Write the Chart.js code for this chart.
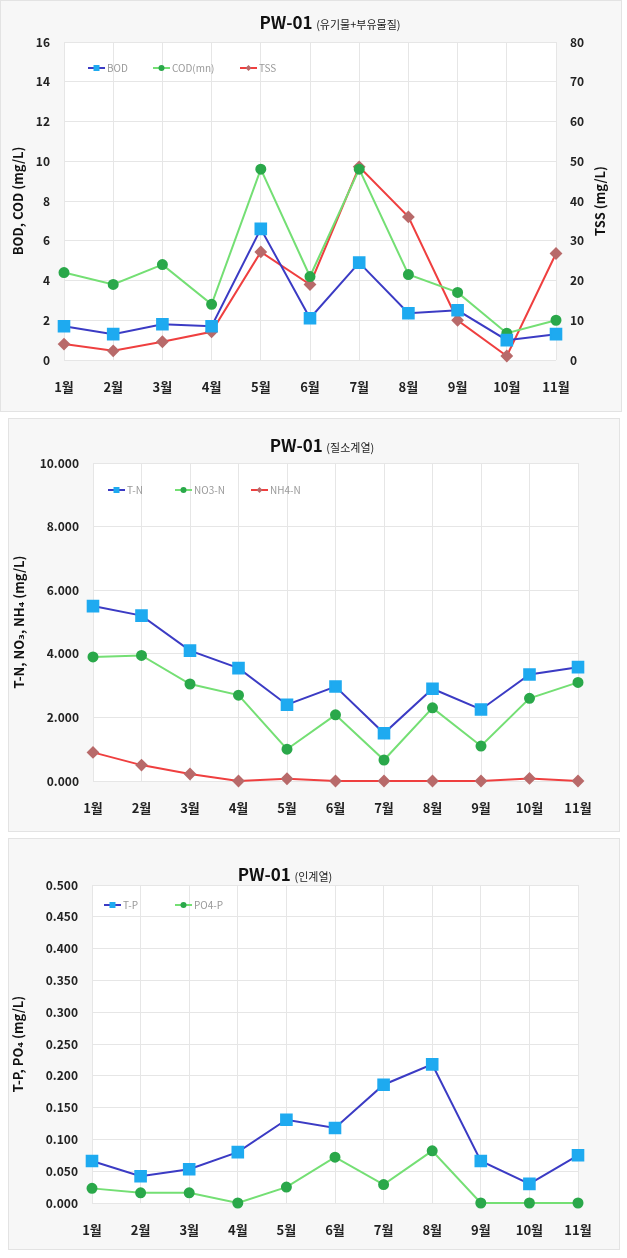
<!DOCTYPE html>
<html>
<head>
<meta charset="utf-8">
<script src="https://cdn.jsdelivr.net/npm/chart.js@4.4.1/dist/chart.umd.min.js"></script>
<style>
    body { margin: 0; width: 627px; height: 1258px; background: #fff; position: relative; overflow: hidden; font-family: "Noto Sans CJK KR", sans-serif; }
    .panel { position: absolute; background: #f7f7f7; border: 1px solid #e3e3e3; box-sizing: border-box; }
    .panel canvas { position: absolute; left: -1px; top: -1px; }
    .title { position: absolute; white-space: nowrap; color: #111; transform: translate(-50%, -50%); line-height: 1; }
    .title b { font-size: 17px; }
    .title span { font-size: 11px; font-weight: normal; color: #222; }
</style>
</head>
<body>
<div class="panel" style="left:0;top:0;width:622px;height:412px"><canvas id="c1" width="622" height="412"></canvas></div>
<div class="panel" style="left:8px;top:418px;width:612px;height:414px"><canvas id="c2" width="612" height="414"></canvas></div>
<div class="panel" style="left:8px;top:838px;width:612px;height:412px"><canvas id="c3" width="612" height="412"></canvas></div>
<div class="title" style="left:330px;top:21px"><b>PW-01</b> <span>(유기물+부유물질)</span></div>
<div class="title" style="left:322px;top:444px"><b>PW-01</b> <span>(질소계열)</span></div>
<div class="title" style="left:285px;top:873px"><b>PW-01</b> <span>(인계열)</span></div>
<script>
const months = ["1월", "2월", "3월", "4월", "5월", "6월", "7월", "8월", "9월", "10월", "11월"];

// 유기물 + 부유물질
const bod = [1.7, 1.3, 1.8, 1.7, 6.6, 2.1, 4.9, 2.35, 2.5, 1.0, 1.3];
const cod = [4.4, 3.8, 4.8, 2.8, 9.6, 4.2, 9.6, 4.3, 3.4, 1.35, 2.0];
const tss = [4.0, 2.3, 4.6, 7.1, 27.2, 19.0, 48.6, 36.0, 10.0, 1.0, 26.8];

// 질소계열
const tn = [5.5, 5.2, 4.1, 3.55, 2.4, 2.97, 1.5, 2.9, 2.25, 3.35, 3.58];
const no3 = [3.9, 3.95, 3.05, 2.7, 1.0, 2.08, 0.66, 2.3, 1.1, 2.6, 3.1];
const nh4 = [0.9, 0.5, 0.22, 0.0, 0.07, 0.0, 0.0, 0.0, 0.0, 0.08, 0.0];

// 인계열
const tp = [0.066, 0.042, 0.053, 0.080, 0.131, 0.118, 0.186, 0.218, 0.066, 0.030, 0.075];
const po4 = [0.023, 0.016, 0.016, 0.0, 0.025, 0.072, 0.029, 0.082, 0.0, 0.0, 0.0];

const FONT = '"Noto Sans CJK KR", "DejaVu Sans", sans-serif';
const GRID = "#e6e6e6";

const plotBackground = {
    id: "plotBackground",
    beforeDraw(chart) {
        const { ctx, chartArea: a } = chart;
        ctx.save();
        ctx.fillStyle = "#fff";
        ctx.fillRect(a.left, a.top, a.width, a.height);
        ctx.restore();
    },
};

function drawMarker(ctx, style, x, y, r) {
    ctx.beginPath();
    if (style === "rect") {
        ctx.rect(x - r, y - r, r * 2, r * 2);
    } else if (style === "rectRot") {
        ctx.moveTo(x, y - r); ctx.lineTo(x + r, y); ctx.lineTo(x, y + r); ctx.lineTo(x - r, y); ctx.closePath();
    } else {
        ctx.arc(x, y, r, 0, Math.PI * 2);
    }
    ctx.fill();
}

// legend drawn inside the plot, top-left, like the original sheet
const insideLegend = {
    id: "insideLegend",
    afterDraw(chart, args, opts) {
        const { ctx, chartArea: a } = chart;
        ctx.save();
        ctx.font = "10px " + FONT;
        ctx.textBaseline = "middle";
        chart.data.datasets.forEach((ds, i) => {
            const x = a.left + opts.xs[i];
            const y = a.top + opts.y;
            ctx.strokeStyle = ds.borderColor;
            ctx.lineWidth = 2;
            ctx.beginPath();
            ctx.moveTo(x, y);
            ctx.lineTo(x + 17, y);
            ctx.stroke();
            ctx.fillStyle = ds.pointBackgroundColor;
            drawMarker(ctx, ds.pointStyle, x + 8.5, y, 3);
            ctx.fillStyle = "#999";
            ctx.fillText(ds.label, x + 19, y);
        });
        ctx.restore();
    },
};

// right axis title reads bottom-to-top in the original, so draw it by hand
const rightTitle = {
    id: "rightTitle",
    afterDraw(chart, args, opts) {
        if (!opts.text) return;
        const { ctx, chartArea: a } = chart;
        ctx.save();
        ctx.translate(a.right + opts.dx, (a.top + a.bottom) / 2);
        ctx.rotate(-Math.PI / 2);
        ctx.font = "bold 13px " + FONT;
        ctx.fillStyle = "#111";
        ctx.textAlign = "center";
        ctx.textBaseline = "middle";
        ctx.fillText(opts.text, 0, 0);
        ctx.restore();
    },
};

function blueSeries(label, data) {
    return { label, data, borderColor: "#3b3bc4", backgroundColor: "#1eaaf0", pointBackgroundColor: "#1eaaf0",
        pointBorderColor: "#1eaaf0", pointStyle: "rect", pointRadius: 7.5, borderWidth: 2, tension: 0, clip: false };
}
function greenSeries(label, data) {
    return { label, data, borderColor: "#74df74", backgroundColor: "#2aa84a", pointBackgroundColor: "#2aa84a",
        pointBorderColor: "#2aa84a", pointStyle: "circle", pointRadius: 4.5, borderWidth: 2, tension: 0, clip: false };
}
function redSeries(label, data, yAxisID) {
    return { label, data, yAxisID, borderColor: "#ef3f3f", backgroundColor: "#b86a6a", pointBackgroundColor: "#b86a6a",
        pointBorderColor: "#b86a6a", pointStyle: "rectRot", pointRadius: 5, borderWidth: 2, tension: 0, clip: false };
}

function xAxis(height) {
    return {
        type: "category",
        offset: false,
        grid: { color: GRID, drawTicks: false },
        border: { display: false },
        ticks: { color: "#222", font: { family: FONT, size: 13, weight: "bold" }, padding: 19, maxRotation: 0, autoSkip: false },
        afterFit(scale) { scale.height = height; },
    };
}

function yAxis(min, max, step, title, width, titlePad, decimals, position) {
    return {
        position: position || "left",
        min, max,
        grid: { color: GRID, drawTicks: false },
        border: { display: false },
        ticks: {
            stepSize: step,
            color: "#222",
            font: { family: FONT, size: 12, weight: "bold" },
            padding: 14,
            callback: (v) => Number(v).toFixed(decimals),
        },
        title: { display: !!title, text: title, color: "#111", font: { family: FONT, size: 13, weight: "bold" }, padding: { top: titlePad, bottom: 0 } },
        afterFit(scale) { scale.width = width; },
    };
}

function makeChart(id, datasets, scales, padding, legend, rightText) {
    return new Chart(document.getElementById(id), {
        type: "line",
        data: { labels: months, datasets },
        options: {
            responsive: false,
            animation: false,
            layout: { padding },
            plugins: {
                legend: { display: false },
                tooltip: { enabled: false },
                insideLegend: legend,
                rightTitle: { text: rightText || "", dx: 44 },
            },
            scales,
        },
        plugins: [plotBackground, insideLegend, rightTitle],
    });
}

const right1 = yAxis(0, 80, 10, "", 66, 0, 0, "right");
right1.grid = { drawOnChartArea: false, drawTicks: false };
makeChart("c1",
    [blueSeries("BOD", bod), greenSeries("COD(mn)", cod), redSeries("TSS", tss, "y2")],
    { x: xAxis(52), y: yAxis(0, 16, 2, "BOD, COD (mg/L)", 64, 10, 0), y2: right1 },
    { top: 42, left: 0, right: 0, bottom: 0 },
    { xs: [24, 89, 176], y: 26 },
    "TSS (mg/L)");

makeChart("c2",
    [blueSeries("T-N", tn), greenSeries("NO3-N", no3), redSeries("NH4-N", nh4, "y")],
    { x: xAxis(51), y: yAxis(0, 10, 2, "T-N, NO₃, NH₄ (mg/L)", 85, 3, 3) },
    { top: 45, left: 0, right: 42, bottom: 0 },
    { xs: [15, 82, 158], y: 27 });

makeChart("c3",
    [blueSeries("T-P", tp), greenSeries("PO4-P", po4)],
    { x: xAxis(47), y: yAxis(0, 0.5, 0.05, "T-P, PO₄ (mg/L)", 84, 2, 3) },
    { top: 47, left: 0, right: 42, bottom: 0 },
    { xs: [12, 83], y: 20 });
</script>
</body>
</html>
